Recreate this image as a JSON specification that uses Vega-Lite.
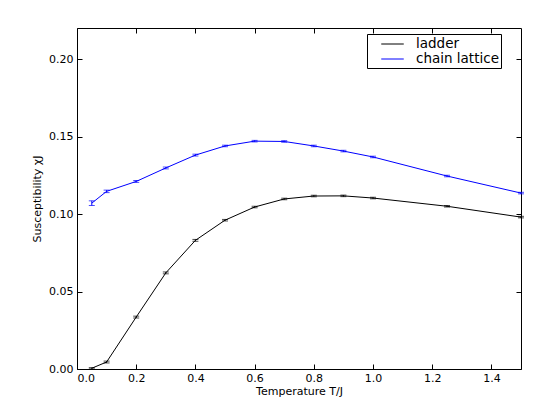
{
  "$schema": "https://vega.github.io/schema/vega-lite/v6.json",
  "width": 444,
  "height": 341,
  "autosize": "none",
  "padding": {"left": 77, "top": 28, "right": 38, "bottom": 38},
  "background": "white",
  "config": {
    "font": "DejaVu Sans",
    "view": {"stroke": "black", "strokeWidth": 1},
    "axis": {"grid": false, "domain": false, "offset": -5, "zindex": 2, "tickColor": "black", "labelColor": "black", "titleColor": "black", "labelFontSize": 11, "titleFontSize": 11, "titleFontWeight": "normal", "tickSize": 5, "tickWidth": 1, "ticks": true, "labelPadding": 4},
    "legend": {"strokeColor": "black", "fillColor": "white", "padding": 2, "cornerRadius": 0, "labelFontSize": 13.5, "labelColor": "black", "symbolType": "M-1.5,0H1.5", "symbolSize": 225, "symbolStrokeWidth": 1, "symbolOffset": 15.5, "labelOffset": 15.5, "rowPadding": 0, "labelExpr": "datum.label + '\u00a0\u00a0'"}
  },
  "data": {"values": [
    {"series": "ladder", "T": 0.05, "chi": 0.0005, "err": 0.0004},
    {"series": "ladder", "T": 0.1, "chi": 0.0045, "err": 0.0006},
    {"series": "ladder", "T": 0.2, "chi": 0.0335, "err": 0.0006},
    {"series": "ladder", "T": 0.3, "chi": 0.062, "err": 0.0006},
    {"series": "ladder", "T": 0.4, "chi": 0.083, "err": 0.0006},
    {"series": "ladder", "T": 0.5, "chi": 0.096, "err": 0.0005},
    {"series": "ladder", "T": 0.6, "chi": 0.1045, "err": 0.0005},
    {"series": "ladder", "T": 0.7, "chi": 0.1097, "err": 0.0005},
    {"series": "ladder", "T": 0.8, "chi": 0.1116, "err": 0.0005},
    {"series": "ladder", "T": 0.9, "chi": 0.1117, "err": 0.0005},
    {"series": "ladder", "T": 1.0, "chi": 0.1103, "err": 0.0005},
    {"series": "ladder", "T": 1.25, "chi": 0.105, "err": 0.0005},
    {"series": "ladder", "T": 1.5, "chi": 0.098, "err": 0.0005},
    {"series": "chain lattice", "T": 0.05, "chi": 0.107, "err": 0.0015},
    {"series": "chain lattice", "T": 0.1, "chi": 0.1146, "err": 0.0008},
    {"series": "chain lattice", "T": 0.2, "chi": 0.121, "err": 0.0006},
    {"series": "chain lattice", "T": 0.3, "chi": 0.1297, "err": 0.0006},
    {"series": "chain lattice", "T": 0.4, "chi": 0.138, "err": 0.0006},
    {"series": "chain lattice", "T": 0.5, "chi": 0.1439, "err": 0.0005},
    {"series": "chain lattice", "T": 0.6, "chi": 0.147, "err": 0.0005},
    {"series": "chain lattice", "T": 0.7, "chi": 0.1468, "err": 0.0005},
    {"series": "chain lattice", "T": 0.8, "chi": 0.1439, "err": 0.0005},
    {"series": "chain lattice", "T": 0.9, "chi": 0.1406, "err": 0.0005},
    {"series": "chain lattice", "T": 1.0, "chi": 0.1368, "err": 0.0005},
    {"series": "chain lattice", "T": 1.25, "chi": 0.1245, "err": 0.0005},
    {"series": "chain lattice", "T": 1.5, "chi": 0.1135, "err": 0.0005}
  ]},
  "layer": [
    {
      "mark": {"type": "line", "strokeWidth": 1, "clip": true},
      "encoding": {
        "x": {"field": "T", "type": "quantitative", "scale": {"domain": [0, 1.5], "nice": false}, "axis": {"orient": "bottom", "title": "Temperature T/J", "values": [0, 0.2, 0.4, 0.6, 0.8, 1.0, 1.2, 1.4], "format": ".1f", "labelPadding": 3, "titlePadding": 2}},
        "y": {"field": "chi", "type": "quantitative", "scale": {"domain": [0, 0.22], "nice": false}, "axis": {"orient": "left", "title": "Susceptibility χJ", "values": [0, 0.05, 0.1, 0.15, 0.2], "format": ".2f", "titlePadding": 6}},
        "color": {"field": "series", "type": "nominal", "scale": {"domain": ["ladder", "chain lattice"], "range": ["black", "blue"]},
          "legend": {"title": null, "orient": "none", "legendX": 290, "legendY": 6}}
      }
    },
    {
      "mark": {"type": "errorbar", "ticks": {"size": 6}, "thickness": 1},
      "encoding": {
        "x": {"field": "T", "type": "quantitative", "axis": null},
        "y": {"field": "chi", "type": "quantitative", "axis": null},
        "yError": {"field": "err"},
        "color": {"field": "series", "type": "nominal", "scale": {"domain": ["ladder", "chain lattice"], "range": ["black", "blue"]}, "legend": null}
      }
    },
    {
      "mark": {"type": "point", "opacity": 0},
      "encoding": {
        "x": {"field": "T", "type": "quantitative", "axis": {"orient": "top", "title": null, "labels": false, "values": [0, 0.2, 0.4, 0.6, 0.8, 1.0, 1.2, 1.4]}},
        "y": {"field": "chi", "type": "quantitative", "axis": {"orient": "right", "title": null, "labels": false, "values": [0, 0.05, 0.1, 0.15, 0.2]}}
      }
    }
  ],
  "resolve": {"axis": {"x": "independent", "y": "independent"}, "scale": {"color": "independent"}}
}
